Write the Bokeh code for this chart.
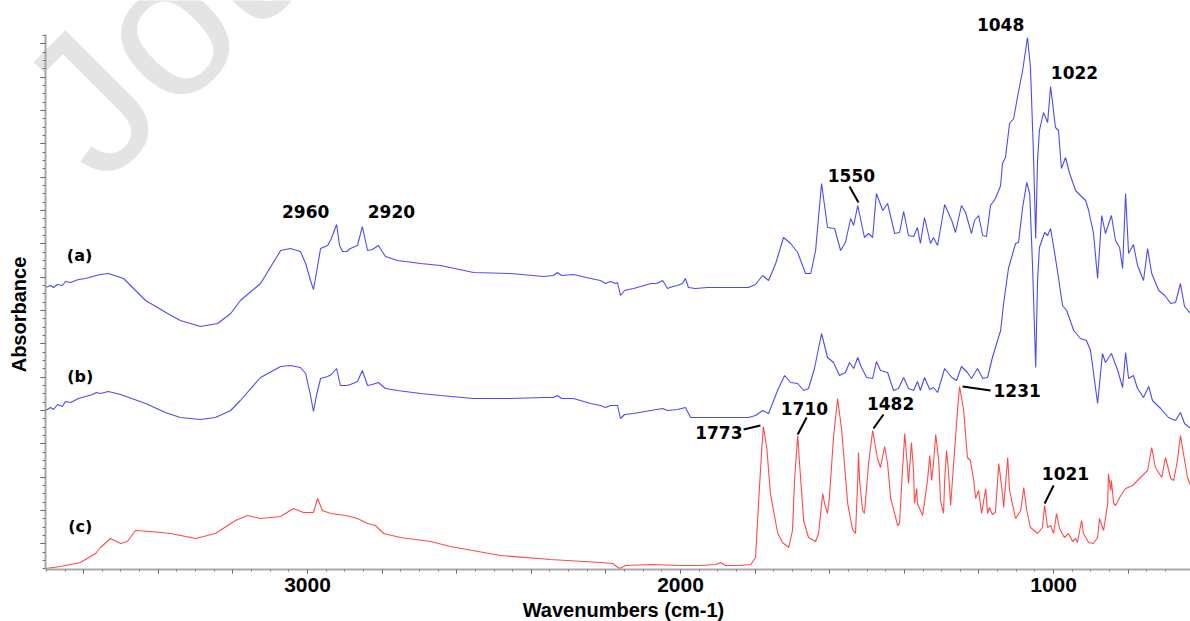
import math
from bokeh.plotting import figure
from bokeh.models import Range1d, FixedTicker, Label, CustomLabelingPolicy
from bokeh.embed import file_html
from bokeh.resources import INLINE

# ---------------- data (wavenumber cm-1, absorbance, offset traces) ----------------
wn_a = [3702, 3689, 3681, 3670, 3657, 3649, 3635, 3614, 3595, 3576, 3566, 3555, 3534, 3493, 3434, 3375, 3341,
        3287, 3241, 3206, 3180, 3126, 3072, 3046, 3019, 3005, 2992, 2984, 2976, 2965, 2946, 2936, 2922, 2914,
        2906, 2895, 2885, 2866, 2853, 2839, 2826, 2810, 2791, 2759, 2697, 2643, 2555, 2456, 2367, 2341, 2330,
        2319, 2287, 2241, 2215, 2201, 2188, 2174, 2169, 2161, 2150, 2139, 2126, 2107, 2080, 2064, 2048, 2035,
        2021, 2008, 1995, 1987, 1979, 1960, 1928, 1893, 1858, 1818, 1799, 1780, 1764, 1745, 1724, 1705, 1686,
        1665, 1651, 1638, 1622, 1606, 1587, 1571, 1558, 1544, 1536, 1525, 1507, 1496, 1485, 1475, 1458, 1445,
        1426, 1413, 1402, 1389, 1375, 1365, 1357, 1346, 1330, 1322, 1311, 1292, 1273, 1263, 1247, 1236, 1220,
        1212, 1201, 1190, 1180, 1169, 1156, 1142, 1137, 1129, 1118, 1107, 1097, 1083, 1070, 1062, 1054, 1048,
        1043, 1038, 1027, 1016, 1008, 995, 987, 979, 968, 957, 941, 928, 914, 906, 893, 882, 871, 861, 845,
        834, 823, 815, 807, 799, 786, 775, 759, 748, 737, 718, 702, 686, 673, 660, 649, 633]
abs_a = [0.846, 0.852, 0.846, 0.855, 0.852, 0.864, 0.861, 0.870, 0.873, 0.879, 0.882, 0.885, 0.888, 0.873,
         0.807, 0.768, 0.747, 0.729, 0.738, 0.768, 0.807, 0.858, 0.957, 0.963, 0.954, 0.918, 0.867, 0.840,
         0.891, 0.963, 0.972, 0.993, 1.035, 0.972, 0.954, 0.954, 0.963, 0.972, 1.029, 0.957, 0.960, 0.972,
         0.939, 0.927, 0.918, 0.912, 0.891, 0.888, 0.879, 0.882, 0.891, 0.882, 0.885, 0.873, 0.867, 0.858,
         0.864, 0.858, 0.861, 0.822, 0.837, 0.840, 0.843, 0.849, 0.858, 0.858, 0.867, 0.843, 0.849, 0.852,
         0.858, 0.873, 0.846, 0.843, 0.846, 0.846, 0.846, 0.846, 0.855, 0.882, 0.867, 0.918, 0.996, 0.978,
         0.951, 0.888, 0.888, 0.957, 1.158, 1.026, 1.023, 0.957, 0.981, 1.053, 1.032, 1.092, 0.996, 1.008,
         0.996, 1.128, 1.077, 1.098, 1.008, 1.011, 1.074, 1.002, 0.999, 1.026, 0.978, 1.056, 0.978, 0.996,
         0.972, 1.095, 1.047, 1.011, 1.092, 1.071, 1.008, 1.047, 1.062, 1.002, 0.999, 1.092, 1.113, 1.152,
         1.218, 1.236, 1.338, 1.353, 1.416, 1.497, 1.596, 1.506, 1.248, 0.993, 1.227, 1.317, 1.371, 1.341,
         1.449, 1.326, 1.317, 1.203, 1.236, 1.188, 1.137, 1.122, 1.107, 1.077, 1.008, 0.873, 1.062, 1.008,
         1.062, 0.987, 0.966, 0.903, 1.128, 0.948, 0.975, 0.912, 0.867, 0.963, 0.888, 0.837, 0.822, 0.798,
         0.801, 0.858, 0.789, 0.768]

wn_b = [3702, 3689, 3681, 3670, 3657, 3649, 3635, 3614, 3595, 3576, 3566, 3555, 3534, 3501, 3434, 3381, 3341,
        3287, 3247, 3206, 3180, 3126, 3072, 3046, 3019, 3005, 2992, 2984, 2976, 2965, 2946, 2936, 2922, 2912,
        2895, 2885, 2866, 2853, 2839, 2826, 2810, 2791, 2759, 2697, 2643, 2555, 2456, 2367, 2341, 2330, 2319,
        2287, 2241, 2215, 2201, 2188, 2169, 2161, 2150, 2126, 2080, 2048, 2035, 2008, 1987, 1973, 1946, 1893,
        1818, 1799, 1780, 1764, 1740, 1721, 1705, 1686, 1670, 1657, 1641, 1622, 1606, 1590, 1574, 1558, 1547,
        1536, 1525, 1515, 1501, 1485, 1475, 1464, 1445, 1429, 1416, 1402, 1389, 1375, 1365, 1357, 1346, 1332,
        1322, 1311, 1292, 1273, 1260, 1247, 1231, 1220, 1204, 1190, 1177, 1164, 1142, 1134, 1121, 1102, 1094,
        1083, 1072, 1064, 1056, 1048, 1043, 1038, 1024, 1016, 1008, 997, 987, 976, 965, 946, 928, 912, 901,
        882, 869, 861, 845, 828, 815, 807, 799, 786, 775, 759, 745, 735, 713, 692, 673, 660, 649, 633]
abs_b = [0.477, 0.486, 0.480, 0.495, 0.489, 0.504, 0.501, 0.513, 0.519, 0.525, 0.531, 0.528, 0.534, 0.525,
         0.498, 0.471, 0.456, 0.450, 0.456, 0.477, 0.507, 0.576, 0.609, 0.612, 0.606, 0.588, 0.522, 0.474,
         0.522, 0.573, 0.579, 0.585, 0.603, 0.552, 0.552, 0.555, 0.564, 0.597, 0.552, 0.555, 0.561, 0.543,
         0.537, 0.528, 0.522, 0.513, 0.513, 0.516, 0.516, 0.522, 0.513, 0.513, 0.498, 0.492, 0.486, 0.492,
         0.492, 0.453, 0.465, 0.468, 0.477, 0.483, 0.477, 0.480, 0.486, 0.456, 0.456, 0.456, 0.456, 0.462,
         0.477, 0.468, 0.537, 0.582, 0.561, 0.558, 0.537, 0.543, 0.603, 0.708, 0.636, 0.621, 0.582, 0.591,
         0.621, 0.603, 0.636, 0.606, 0.576, 0.573, 0.624, 0.597, 0.591, 0.537, 0.543, 0.576, 0.543, 0.537,
         0.564, 0.537, 0.576, 0.540, 0.546, 0.531, 0.603, 0.576, 0.567, 0.609, 0.591, 0.573, 0.603, 0.573,
         0.576, 0.636, 0.717, 0.798, 0.903, 0.978, 0.981, 1.086, 1.161, 1.128, 0.897, 0.606, 0.867, 0.966,
         1.011, 1.002, 1.023, 0.948, 0.876, 0.792, 0.777, 0.717, 0.693, 0.687, 0.657, 0.498, 0.648, 0.621,
         0.648, 0.597, 0.546, 0.651, 0.573, 0.582, 0.543, 0.516, 0.549, 0.507, 0.483, 0.456, 0.447, 0.471,
         0.438, 0.423]

wn_c = [3702, 3662, 3609, 3568, 3555, 3528, 3501, 3483, 3461, 3421, 3367, 3300, 3247, 3193, 3161, 3126, 3072,
        3038, 3011, 2984, 2973, 2960, 2938, 2898, 2866, 2839, 2818, 2796, 2751, 2670, 2617, 2483, 2349, 2215,
        2182, 2164, 2147, 2080, 2000, 1946, 1906, 1893, 1879, 1839, 1812, 1799, 1791, 1783, 1778, 1769, 1759,
        1740, 1727, 1710, 1700, 1694, 1686, 1681, 1670, 1657, 1638, 1630, 1619, 1614, 1606, 1601, 1590, 1579,
        1568, 1552, 1539, 1531, 1525, 1523, 1520, 1512, 1507, 1496, 1485, 1477, 1472, 1464, 1453, 1445, 1437,
        1418, 1413, 1405, 1399, 1391, 1389, 1381, 1375, 1373, 1367, 1365, 1351, 1338, 1332, 1327, 1322, 1316,
        1308, 1303, 1295, 1292, 1287, 1282, 1276, 1268, 1257, 1252, 1241, 1231, 1223, 1214, 1209, 1201, 1193,
        1182, 1177, 1172, 1164, 1156, 1147, 1137, 1134, 1123, 1118, 1102, 1088, 1080, 1072, 1062, 1043, 1030,
        1024, 1016, 1008, 1000, 992, 984, 971, 960, 949, 941, 936, 925, 920, 906, 893, 882, 877, 866, 855,
        853, 847, 845, 839, 834, 820, 807, 788, 767, 748, 737, 727, 710, 700, 686, 678, 668, 660, 651, 641,
        633]
abs_c = [0.003, 0.009, 0.021, 0.048, 0.066, 0.093, 0.078, 0.084, 0.117, 0.114, 0.108, 0.093, 0.108, 0.147,
         0.162, 0.153, 0.159, 0.183, 0.171, 0.171, 0.213, 0.177, 0.168, 0.162, 0.153, 0.138, 0.132, 0.108,
         0.096, 0.084, 0.069, 0.042, 0.030, 0.021, 0.018, 0.003, 0.012, 0.015, 0.012, 0.012, 0.015, 0.021,
         0.012, 0.012, 0.015, 0.036, 0.198, 0.348, 0.429, 0.366, 0.228, 0.111, 0.081, 0.066, 0.117, 0.276,
         0.402, 0.318, 0.147, 0.096, 0.084, 0.108, 0.228, 0.198, 0.168, 0.216, 0.396, 0.513, 0.417, 0.198,
         0.120, 0.108, 0.267, 0.351, 0.267, 0.177, 0.168, 0.318, 0.417, 0.363, 0.333, 0.306, 0.369, 0.318,
         0.216, 0.132, 0.138, 0.297, 0.408, 0.297, 0.258, 0.381, 0.288, 0.198, 0.243, 0.198, 0.162, 0.267,
         0.342, 0.267, 0.318, 0.405, 0.327, 0.207, 0.168, 0.267, 0.357, 0.297, 0.192, 0.318, 0.486, 0.549,
         0.477, 0.336, 0.327, 0.267, 0.213, 0.237, 0.168, 0.243, 0.168, 0.186, 0.165, 0.171, 0.318, 0.228,
         0.186, 0.336, 0.237, 0.153, 0.177, 0.246, 0.177, 0.126, 0.108, 0.126, 0.192, 0.126, 0.132, 0.108,
         0.168, 0.123, 0.096, 0.108, 0.084, 0.093, 0.081, 0.147, 0.108, 0.081, 0.078, 0.096, 0.153, 0.117,
         0.198, 0.288, 0.237, 0.267, 0.198, 0.192, 0.222, 0.243, 0.252, 0.276, 0.297, 0.366, 0.306, 0.276,
         0.336, 0.273, 0.267, 0.327, 0.402, 0.342, 0.276, 0.252]

# peak annotations: text, wavenumber, absorbance, alignment
ann_text = ["2960", "2920", "1550", "1048", "1022", "1773", "1710", "1482", "1231", "1021"]
ann_wn = [3005, 2775, 1542, 1142, 944, 1834, 1668, 1437, 1161, 968]
ann_y = [1.074, 1.074, 1.182, 1.635, 1.491, 0.411, 0.483, 0.498, 0.537, 0.288]
ann_align = ["center", "center", "center", "center", "center", "right", "center", "center", "left", "center"]

# leader lines from label to peak
lead_wn0 = [1547, 1831, 1662, 1456, 1169, 1000]
lead_y0 = [1.149, 0.420, 0.456, 0.465, 0.537, 0.252]
lead_wn1 = [1523, 1786, 1686, 1483, 1244, 1024]
lead_y1 = [1.101, 0.432, 0.405, 0.423, 0.549, 0.198]

trace_names = ["(a)", "(b)", "(c)"]
trace_name_wn = [3611, 3609, 3609]
trace_name_y = [0.942, 0.579, 0.129]

x_title = "Wavenumbers (cm-1)"
y_title = "Absorbance"
major_x = list(range(800, 3700, 200))   # labelled only at 1000, 2000, 3000

# ---------------- figure ----------------
p = figure(width=1190, height=621, output_backend="svg", toolbar_location=None,
           x_range=Range1d(3823, 633), y_range=Range1d(-0.156, 1.707),
           min_border_left=0, min_border_right=0, min_border_top=0, min_border_bottom=0,
           background_fill_color="white", border_fill_color="white")
p.grid.visible = False
p.outline_line_color = None

BLUE = "#4b4bf5"
RED = "#ff4a4a"

# watermark
p.add_layout(Label(x=3681, y=1.293, text="Journal Pre-proof", angle=math.pi / 4,
                   text_font="Liberation Sans", text_font_size="200px", text_color="#e4e4e4",
                   text_align="left", text_baseline="alphabetic", level="underlay"))

p.line(wn_a, abs_a, line_color=BLUE, line_width=1.1)
p.line(wn_b, abs_b, line_color=BLUE, line_width=1.1)
p.line(wn_c, abs_c, line_color=RED, line_width=1.1)

p.segment(lead_wn0, lead_y0, lead_wn1, lead_y1, line_color="black", line_width=2)

for t, x, y, a in zip(ann_text, ann_wn, ann_y, ann_align):
    p.add_layout(Label(x=x, y=y, text=t, text_font="DejaVu Sans", text_font_style="bold",
                       text_font_size="17px", text_color="black", text_align=a,
                       text_baseline="middle"))
for t, x, y in zip(trace_names, trace_name_wn, trace_name_y):
    p.add_layout(Label(x=x, y=y, text=t, text_font="DejaVu Sans", text_font_style="bold",
                       text_font_size="16px", text_color="black", text_align="center",
                       text_baseline="middle"))

# axis titles
p.add_layout(Label(x=2153, y=-0.120, text=x_title, text_font="Liberation Sans",
                   text_font_style="bold", text_font_size="20px", text_color="black",
                   text_align="center", text_baseline="middle"))
p.add_layout(Label(x=3773, y=0.765, text=y_title, angle=math.pi / 2, text_font="Liberation Sans",
                   text_font_style="bold", text_font_size="20px", text_color="black",
                   text_align="center", text_baseline="middle"))

# x axis (drawn at y = 0 inside the canvas)
xa = p.xaxis[0]
xa.fixed_location = 0
xa.bounds = (633, 3702.5)
xa.ticker = FixedTicker(ticks=major_x, minor_ticks=list(range(700, 3701, 50)))
xa.major_label_policy = CustomLabelingPolicy(code="""
for (const i of indices) {
  if (i != 1 && i != 6 && i != 11) indices.unset(i)
}
return indices
""")
xa.major_label_text_font = "Liberation Sans"
xa.major_label_text_font_style = "bold"
xa.major_label_text_font_size = "21px"
xa.major_label_text_color = "black"
xa.major_label_standoff = 4
xa.axis_line_color = "#a8a8a8"
xa.axis_line_width = 2
xa.major_tick_in = 0
xa.major_tick_out = 4
xa.minor_tick_in = 0
xa.minor_tick_out = 2
xa.major_tick_line_color = "#555555"
xa.minor_tick_line_color = "#777777"

# y axis (no numbers)
ya = p.yaxis[0]
ya.fixed_location = 3702.5
ya.bounds = (0, 1.605)
ya.ticker = FixedTicker(ticks=[round(0.0775 + 0.1 * k, 4) for k in range(16)],
                        minor_ticks=[round(0.0025 + 0.025 * j, 4) for j in range(65)])
ya.major_label_policy = CustomLabelingPolicy(code="""
for (const i of indices) { indices.unset(i) }
return indices
""")
ya.axis_line_color = "#a8a8a8"
ya.axis_line_width = 2
ya.major_tick_in = 0
ya.major_tick_out = 5
ya.minor_tick_in = 0
ya.minor_tick_out = 3
ya.major_tick_line_color = "#555555"
ya.minor_tick_line_color = "#777777"

open("out.html", "w").write(file_html(p, INLINE))
